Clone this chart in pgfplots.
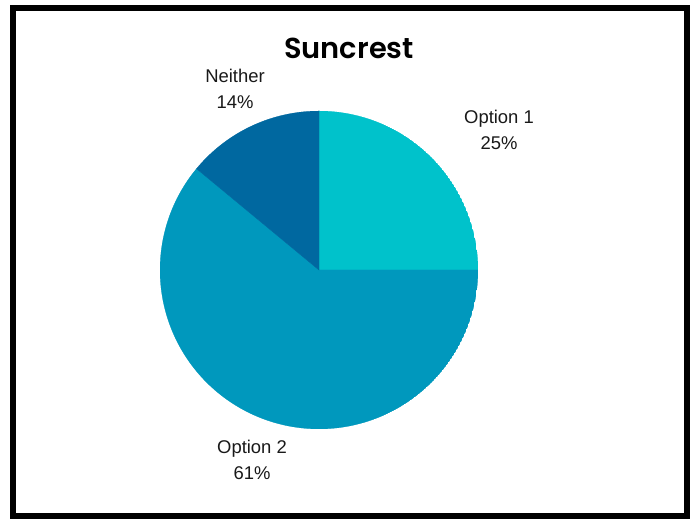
\documentclass[border=0pt]{standalone}
\usepackage{pgfplots}
\pgfplotsset{compat=1.18}
\usepgfplotslibrary{polar}
\usepackage{fontspec}
\setmainfont{Liberation Sans}
\newfontfamily\titlefont{Poppins SemiBold}
\definecolor{opta}{RGB}{0,194,203}
\definecolor{optb}{RGB}{0,152,189}
\definecolor{neith}{RGB}{0,104,160}
\begin{document}
\begin{tikzpicture}[x=1bp,y=1bp]
\fill[white] (0,0) rectangle (696,519);
\draw[line width=6bp,black] (13,3) rectangle (687,511);
% shares: Option 1 = 25%, Option 2 = 61%, Neither = 14% (clockwise from 12 o'clock)
\begin{polaraxis}[at={(319bp,249bp)}, anchor=center, scale only axis,
  width=318bp, height=318bp, xmin=0, xmax=360, ymin=0, ymax=1, hide axis]
\addplot[fill=opta, draw=opta, line width=0.4bp, domain=0:90, samples=60] {1} -- (axis cs:0,0) -- cycle;
\addplot[fill=optb, draw=optb, line width=0.4bp, domain=-219.6:0, samples=120] {1} -- (axis cs:0,0) -- cycle;
\addplot[fill=neith, draw=neith, line width=0.4bp, domain=90:140.4, samples=40] {1} -- (axis cs:0,0) -- cycle;
\end{polaraxis}
\node[font=\titlefont\fontsize{29}{33}\selectfont] at (349,471) {Suncrest};
\node[align=center, font=\fontsize{18.5}{26}\selectfont, text=black!90] at (499,389) {Option 1\\25\%};
\node[align=center, font=\fontsize{18.5}{26}\selectfont, text=black!90] at (235,430) {Neither\\14\%};
\node[align=center, font=\fontsize{18.5}{26}\selectfont, text=black!90] at (252,59) {Option 2\\61\%};
\end{tikzpicture}
\end{document}
